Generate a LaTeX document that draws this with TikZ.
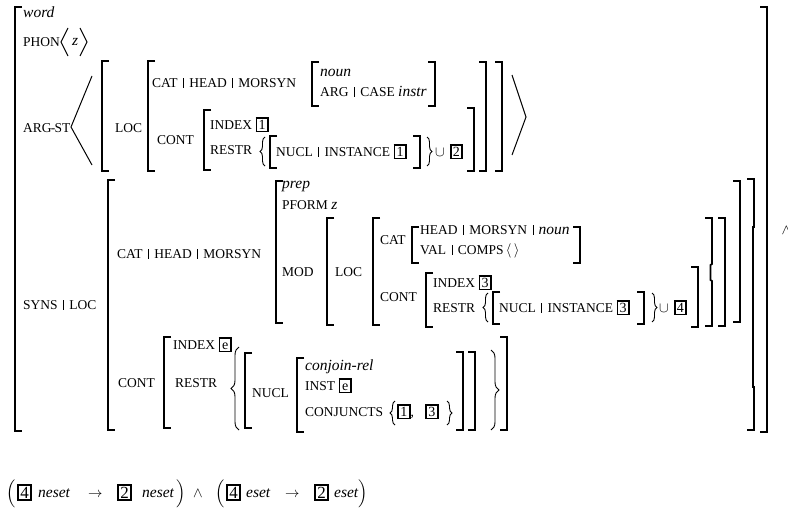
\documentclass[tikz,border=0pt]{standalone}
\usepackage{amsmath,amssymb}
\usepackage{fontspec}
\setmainfont{Liberation Serif}
\usepackage{tikz}
\usetikzlibrary{decorations.pathreplacing}

\newcommand{\ftsz}{\fontsize{13.5}{15}\selectfont}
\newcommand{\vsz}{\fontsize{15.5}{17}\selectfont\itshape}
\newcommand{\avmbar}{\hspace{5.5pt}\rule[-0.3pt]{0.6pt}{9.8pt}\hspace{5.5pt}}
\newcommand{\tg}[2][14]{{\setlength{\fboxrule}{1.8pt}\setlength{\fboxsep}{1pt}%
  \fbox{\fontsize{#1}{#1}\selectfont\upshape\vphantom{1}\makebox[0.55em]{#2}}}}

\begin{document}
\begin{tikzpicture}[x=1pt,y=-1pt,
  ft/.style={anchor=base west,inner sep=0pt,font=\ftsz},
  vl/.style={anchor=base west,inner sep=0pt,font=\vsz},
  bt/.style={anchor=base west,inner sep=0pt,font=\fontsize{15.5}{17}\selectfont},
  brk/.style={line width=1.7pt},
  brc/.style={line width=0.9pt,decorate,decoration={brace,amplitude=#1}},
  ang/.style={line width=1pt}]
  \useasboundingbox (0,0) rectangle (792,511);

  % left brackets
  \foreach \x/\t/\b in {15/7/431, 102/61/171, 148/61/171, 312/62/106, 204/110/170,
      270/136/168, 108/180/430, 276/181/323, 327/218/325, 373/218/325, 412/227/263,
      426/273/327, 493/292/324, 164/337/428, 245/353/428, 297/358/432}
    \draw[brk] (\x+7,\t) -- (\x,\t) -- (\x,\b) -- (\x+7,\b);
  % right brackets
  \foreach \x/\t/\b in {435/62/106, 420/136/168, 474/108/171, 486/62/171, 502/62/171,
      580/227/263, 644/292/324, 698/267/327, 725/218/326, 740/181/322, 767/7/432,
      463/352/430, 475/352/430, 507/337/430}
    \draw[brk] (\x-7,\t) -- (\x,\t) -- (\x,\b) -- (\x-7,\b);
  \draw[brk] (705,218) -- (712,218) -- (712,264) -- (710.5,265) -- (710.5,280)
    -- (712,281) -- (712,326) -- (705,326);
  \draw[brk] (747,179) -- (754,179) -- (754,227) -- (752.8,227) -- (752.8,387)
    -- (754,387) -- (754,430) -- (747,430);

  % braces
  \foreach \x/\t/\b/\a in {265/137/166/5, 488/293/322/5, 239/347/430/8, 395/401/425/5}
    \draw[brc=\a] (\x,\b) -- (\x,\t);
  \foreach \x/\t/\b/\a in {427/137/166/5, 652/293/322/5, 491/350/430/8, 447/401/425/5}
    \draw[brc=\a] (\x,\t) -- (\x,\b);

  % angle brackets
  \draw[ang] (68,28) -- (61,42) -- (68,56);
  \draw[ang] (80,28) -- (87,42) -- (80,56);
  \draw[ang] (92,76) -- (71,127) -- (92,165);
  \draw[ang] (512,75) -- (526,117) -- (512,155);

  % word, PHON, ARG-ST
  \node[vl] (wtype) at (23,17.5) {word};
  \node[ft] (phon) at (23,46.5) {PHON};
  \node[vl] (phonz) at (72,46) {z};
  \node[ft] (argst) at (23,132) {ARG\kern-0.8pt-\kern-0.8pt ST};
  \node[ft] (aloc) at (115,132) {LOC};
  \node[ft] (acat) at (152,87.5) {CAT\avmbar HEAD\avmbar MORSYN};
  \node[vl] (anoun) at (320,76.5) {noun};
  \node[ft] (acase) at (320,96.5) {ARG\avmbar CASE {\vsz instr}};
  \node[ft] (acont) at (157,144.5) {CONT};
  \node[ft] (aindex) at (210,129.5) {INDEX \tg{1}};
  \node[ft] (arestr) at (210,154.5) {RESTR};
  \node[ft] (anucl) at (276,156.5) {NUCL\avmbar INSTANCE \tg{1}};
  \node[ft] (aunion) at (435,156.5) {$\cup$\hspace{5pt}\tg{2}};

  % SYNS | LOC
  \node[ft] (sloc) at (23,309.5) {SYNS\avmbar LOC};
  \node[ft] (scat) at (117,258.5) {CAT\avmbar HEAD\avmbar MORSYN};
  \node[vl] (sprep) at (282,188.5) {prep};
  \node[ft] (spform) at (282,209.5) {PFORM {\vsz z}};
  \node[ft] (smod) at (282,276.5) {MOD};
  \node[ft] (mloc) at (335,276.5) {LOC};
  \node[ft] (mcat) at (380,244.5) {CAT};
  \node[ft] (mhead) at (420,234.5) {HEAD\avmbar MORSYN\avmbar {\vsz noun}};
  \node[ft] (mval) at (420,254.5) {VAL\avmbar COMPS\,$\langle\,\rangle$};
  \node[ft] (mcont) at (380,301.5) {CONT};
  \node[ft] (mindex) at (433,287.5) {INDEX \tg{3}};
  \node[ft] (mrestr) at (433,312.5) {RESTR};
  \node[ft] (mnucl) at (499,312.5) {NUCL\avmbar INSTANCE \tg{3}};
  \node[ft] (munion) at (659,312.5) {$\cup$\hspace{5pt}\tg{4}};

  \node[ft] (scont) at (118,387.5) {CONT};
  \node[ft] (sindex) at (173,349.5) {INDEX \tg{e}};
  \node[ft] (srestr) at (175,387.5) {RESTR};
  \node[ft] (snucl) at (252,397.5) {NUCL};
  \node[vl] (srel) at (305,370.5) {conjoin-rel};
  \node[ft] (sinst) at (305,390.5) {INST \tg{e}};
  \node[ft] (sconj) at (305,416.5) {CONJUNCTS};
  \node[ft] (sone) at (397,416.5) {\tg{1},};
  \node[ft] (sthree) at (425,416.5) {\tg{3}};

  \begin{scope}
    \clip (0,0) rectangle (787.5,511);
    \node[bt] (cut) at (781.5,234) {$\wedge$};
  \end{scope}

  % implication below
  \node[bt] (lpa) at (6,497) {$\Big($};
  \node[bt] (fa) at (17,498) {\tg[17]{4}};
  \node[vl] (na) at (38,497) {neset};
  \node[bt] (ia) at (88,497) {$\rightarrow$};
  \node[bt] (fb) at (117,498) {\tg[17]{2}};
  \node[vl] (nb) at (142,497) {neset};
  \node[bt] (rpa) at (176,497) {$\Big)$};
  \node[bt] (and) at (193,497) {$\wedge$};
  \node[bt] (lpb) at (215,497) {$\Big($};
  \node[bt] (fc) at (226,498) {\tg[17]{4}};
  \node[vl] (nc) at (246,497) {eset};
  \node[bt] (ib) at (285,497) {$\rightarrow$};
  \node[bt] (fd) at (314,498) {\tg[17]{2}};
  \node[vl] (nd) at (334,497) {eset};
  \node[bt] (rpb) at (358,497) {$\Big)$};
\end{tikzpicture}
\end{document}
